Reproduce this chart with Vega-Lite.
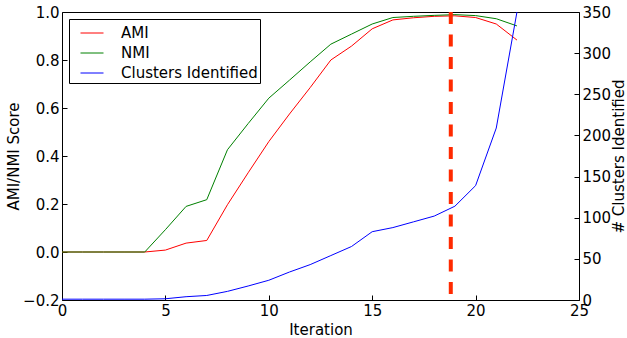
{
  "$schema": "https://vega.github.io/schema/vega-lite/v6.json",
  "width": 517,
  "height": 288,
  "autosize": {"type": "none"},
  "padding": {"left": 62, "top": 12, "right": 48, "bottom": 38},
  "background": "white",
  "config": {
    "font": "DejaVu Sans",
    "view": {"stroke": "black", "strokeWidth": 1},
    "axis": {
      "labelFont": "DejaVu Sans",
      "titleFont": "DejaVu Sans",
      "labelFontSize": 15,
      "titleFontSize": 15,
      "titleFontWeight": "normal",
      "labelColor": "black",
      "titleColor": "black",
      "domain": false,
      "grid": false,
      "tickColor": "black",
      "tickSize": -5,
      "labelPadding": 8,
      "labelFlush": false,
      "labelOverlap": false
    },
    "legend": {
      "labelFont": "DejaVu Sans",
      "labelFontSize": 15,
      "labelColor": "black"
    }
  },
  "datasets": {
    "series": [
      {"iter": 0, "series": "AMI", "value": 0},
      {"iter": 1, "series": "AMI", "value": 0},
      {"iter": 2, "series": "AMI", "value": 0},
      {"iter": 3, "series": "AMI", "value": 0},
      {"iter": 4, "series": "AMI", "value": 0},
      {"iter": 5, "series": "AMI", "value": 0.008},
      {"iter": 6, "series": "AMI", "value": 0.037},
      {"iter": 7, "series": "AMI", "value": 0.048},
      {"iter": 8, "series": "AMI", "value": 0.197},
      {"iter": 9, "series": "AMI", "value": 0.33},
      {"iter": 10, "series": "AMI", "value": 0.46},
      {"iter": 11, "series": "AMI", "value": 0.575},
      {"iter": 12, "series": "AMI", "value": 0.685},
      {"iter": 13, "series": "AMI", "value": 0.8},
      {"iter": 14, "series": "AMI", "value": 0.858},
      {"iter": 15, "series": "AMI", "value": 0.93},
      {"iter": 16, "series": "AMI", "value": 0.967},
      {"iter": 17, "series": "AMI", "value": 0.976},
      {"iter": 18, "series": "AMI", "value": 0.982},
      {"iter": 19, "series": "AMI", "value": 0.984},
      {"iter": 20, "series": "AMI", "value": 0.977},
      {"iter": 21, "series": "AMI", "value": 0.95},
      {"iter": 22, "series": "AMI", "value": 0.883},
      {"iter": 0, "series": "NMI", "value": 0},
      {"iter": 1, "series": "NMI", "value": 0},
      {"iter": 2, "series": "NMI", "value": 0},
      {"iter": 3, "series": "NMI", "value": 0},
      {"iter": 4, "series": "NMI", "value": 0},
      {"iter": 5, "series": "NMI", "value": 0.093},
      {"iter": 6, "series": "NMI", "value": 0.19},
      {"iter": 7, "series": "NMI", "value": 0.218},
      {"iter": 8, "series": "NMI", "value": 0.426},
      {"iter": 9, "series": "NMI", "value": 0.535},
      {"iter": 10, "series": "NMI", "value": 0.641},
      {"iter": 11, "series": "NMI", "value": 0.716},
      {"iter": 12, "series": "NMI", "value": 0.792},
      {"iter": 13, "series": "NMI", "value": 0.866},
      {"iter": 14, "series": "NMI", "value": 0.908},
      {"iter": 15, "series": "NMI", "value": 0.95},
      {"iter": 16, "series": "NMI", "value": 0.977},
      {"iter": 17, "series": "NMI", "value": 0.982},
      {"iter": 18, "series": "NMI", "value": 0.986},
      {"iter": 19, "series": "NMI", "value": 0.989},
      {"iter": 20, "series": "NMI", "value": 0.985},
      {"iter": 21, "series": "NMI", "value": 0.972},
      {"iter": 22, "series": "NMI", "value": 0.942},
      {"iter": 0, "series": "Clusters Identified", "value": 1},
      {"iter": 1, "series": "Clusters Identified", "value": 1},
      {"iter": 2, "series": "Clusters Identified", "value": 1},
      {"iter": 3, "series": "Clusters Identified", "value": 1},
      {"iter": 4, "series": "Clusters Identified", "value": 1},
      {"iter": 5, "series": "Clusters Identified", "value": 1.5},
      {"iter": 6, "series": "Clusters Identified", "value": 4},
      {"iter": 7, "series": "Clusters Identified", "value": 5.5},
      {"iter": 8, "series": "Clusters Identified", "value": 10.5},
      {"iter": 9, "series": "Clusters Identified", "value": 17},
      {"iter": 10, "series": "Clusters Identified", "value": 24},
      {"iter": 11, "series": "Clusters Identified", "value": 34},
      {"iter": 12, "series": "Clusters Identified", "value": 43},
      {"iter": 13, "series": "Clusters Identified", "value": 54},
      {"iter": 14, "series": "Clusters Identified", "value": 65},
      {"iter": 15, "series": "Clusters Identified", "value": 83},
      {"iter": 16, "series": "Clusters Identified", "value": 88},
      {"iter": 17, "series": "Clusters Identified", "value": 95},
      {"iter": 18, "series": "Clusters Identified", "value": 102},
      {"iter": 19, "series": "Clusters Identified", "value": 114},
      {"iter": 20, "series": "Clusters Identified", "value": 139},
      {"iter": 21, "series": "Clusters Identified", "value": 209},
      {"iter": 22, "series": "Clusters Identified", "value": 350}
    ],
    "marker": [{"iter": 18.8}]
  },
  "layer": [
    {
      "data": {"name": "series"},
      "transform": [{"filter": "datum.series !== 'Clusters Identified'"}],
      "mark": {"type": "line", "strokeWidth": 1, "clip": true},
      "encoding": {
        "x": {
          "field": "iter", "type": "quantitative",
          "scale": {"domain": [0, 25], "nice": false, "zero": false},
          "axis": {"title": "Iteration", "values": [0, 5, 10, 15, 20, 25], "format": "d", "titlePadding": 4}
        },
        "y": {
          "field": "value", "type": "quantitative",
          "scale": {"domain": [-0.2, 1.0], "nice": false, "zero": false},
          "axis": {"title": "AMI/NMI Score", "values": [-0.2, 0, 0.2, 0.4, 0.6, 0.8, 1.0], "format": ".1f", "titlePadding": 1}
        },
        "color": {
          "field": "series", "type": "nominal",
          "scale": {"domain": ["AMI", "NMI", "Clusters Identified"], "range": ["#ff0000", "#008000", "#0000ff"]},
          "legend": {
            "title": null,
            "orient": "none",
            "legendX": 7,
            "legendY": 7,
            "symbolType": "stroke",
            "symbolSize": 529,
            "symbolStrokeWidth": 1,
            "symbolOffset": 9,
            "labelOffset": 17,
            "rowPadding": 0,
            "padding": 2,
            "strokeColor": "black",
            "fillColor": "white",
            "cornerRadius": 0,
            "labelFontSize": 15
          }
        },
        "detail": {"field": "series"}
      }
    },
    {
      "data": {"name": "series"},
      "transform": [{"filter": "datum.series === 'Clusters Identified'"}],
      "mark": {"type": "line", "strokeWidth": 1, "clip": true},
      "encoding": {
        "x": {"field": "iter", "type": "quantitative"},
        "y": {
          "field": "value", "type": "quantitative",
          "scale": {"domain": [0, 350], "nice": false, "zero": false},
          "axis": {"orient": "right", "title": "# Clusters Identified", "titleAngle": 270, "values": [0, 50, 100, 150, 200, 250, 300, 350], "format": "d", "titlePadding": 16}
        },
        "color": {"field": "series", "type": "nominal"}
      }
    },
    {
      "data": {"name": "marker"},
      "mark": {"type": "rule", "color": "#ff2a00", "strokeWidth": 4, "strokeDash": [12, 10.5]},
      "encoding": {
        "x": {"field": "iter", "type": "quantitative"}
      }
    }
  ],
  "resolve": {"scale": {"y": "independent"}}
}
